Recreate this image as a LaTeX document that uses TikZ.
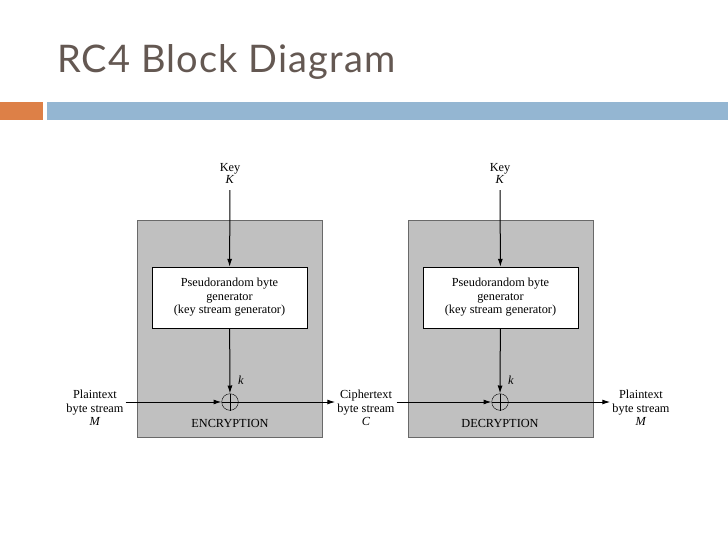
\documentclass[tikz,border=0pt]{standalone}
\usepackage{fontspec}
\setmainfont{Liberation Serif}
\newfontfamily\titlefont[LetterSpace=3]{Lato}
\usetikzlibrary{arrows.meta, calc}

\definecolor{titlegray}{RGB}{100,88,82}
\definecolor{barorange}{RGB}{221,128,71}
\definecolor{barblue}{RGB}{148,182,210}
\definecolor{boxfill}{RGB}{192,192,192}
\definecolor{boxline}{RGB}{105,105,105}

\begin{document}
\begin{tikzpicture}[x=1pt, y=-1pt,
        lbl/.style={align=center, inner sep=2pt, font=\fontsize{12.3}{13.5}\selectfont},
        gen/.style={draw, fill=white, minimum width=155pt, minimum height=61pt, align=center, font=\fontsize{12.3}{13.5}\selectfont},
        xor/.style={draw, circle, fill=boxfill, inner sep=0pt, minimum size=16.6pt},
        arr/.style={-{Latex[length=8pt, width=5pt]}, line width=1pt},
        panel/.style={draw=boxline, fill=boxfill, line width=1pt}]
    \useasboundingbox (0,0) rectangle (728,546);
    \fill[white] (0,0) rectangle (728,546);

    % title and bars
    \node[anchor=base west, inner sep=0pt, text=titlegray, font=\titlefont\fontsize{38}{42}\selectfont] (title) at (57,72) {RC4 Block Diagram};
    \fill[barorange] (0,102) rectangle (43,120);
    \fill[barblue] (47,102) rectangle (728,120);

    % encryption side
    \draw[panel] (137,220) rectangle (322,437);
    \node[lbl] (keyE) at (230,173) {Key\\[-1.5pt] \textit{K}};
    \node[gen] (genE) at (229.5,297.5) {Pseudorandom byte\\ generator\\ (key stream generator)};
    \node[xor] (xorE) at (230,402) {};
    \draw (xorE.north) -- (xorE.south) (xorE.west) -- (xorE.east);
    \node[lbl] (kE) at (241,380) {\textit{k}};
    \node[lbl] (encE) at (230,423) {ENCRYPTION};
    \node[lbl] (plainIn) at (95,408) {Plaintext\\ byte stream\\ \textit{M}};

    % decryption side
    \draw[panel] (408,220) rectangle (593,437);
    \node[lbl] (keyD) at (500,173) {Key\\[-1.5pt] \textit{K}};
    \node[gen] (genD) at (500.5,297.5) {Pseudorandom byte\\ generator\\ (key stream generator)};
    \node[xor] (xorD) at (500,402) {};
    \draw (xorD.north) -- (xorD.south) (xorD.west) -- (xorD.east);
    \node[lbl] (kD) at (511,380) {\textit{k}};
    \node[lbl] (decD) at (500,423) {DECRYPTION};
    \node[lbl] (cipher) at (366,408) {Ciphertext\\ byte stream\\ \textit{C}};
    \node[lbl] (plainOut) at (641,408) {Plaintext\\ byte stream\\ \textit{M}};

    % connectors
    \draw[arr, shorten <=5pt] (keyE) -- (genE);
    \draw[arr] (genE) -- (xorE);
    \draw[arr] (plainIn.east |- xorE) -- (xorE);
    \draw[arr] (xorE) -- (cipher.west |- xorE);
    \draw[arr, shorten <=5pt] (keyD) -- (genD);
    \draw[arr] (genD) -- (xorD);
    \draw[arr] (cipher.east |- xorD) -- (xorD);
    \draw[arr] (xorD) -- (plainOut.west |- xorD);
\end{tikzpicture}
\end{document}
